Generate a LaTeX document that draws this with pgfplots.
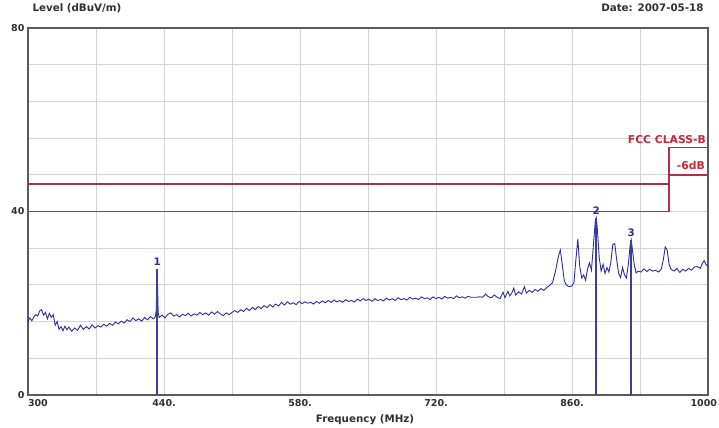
\documentclass[border=0pt]{standalone}
\usepackage{pgfplots}
\pgfplotsset{compat=1.18}
\usepackage{fontspec}
\setmainfont{DejaVu Sans}
\definecolor{trace}{HTML}{2E2E9E}
\definecolor{limit}{HTML}{B03048}
\definecolor{limtxt}{HTML}{C8283A}
\definecolor{frame}{HTML}{5A5A5A}
\definecolor{gridc}{HTML}{D4D4D4}
\definecolor{txt}{HTML}{303030}
\newcommand{\lbl}{\bfseries\fontsize{10.3}{11}\selectfont}
\newcommand{\tck}{\bfseries\fontsize{9.5}{10}\selectfont}
\newcommand{\limfont}{\bfseries\fontsize{10.8}{11}\selectfont}
\begin{document}
\begin{tikzpicture}
\begin{axis}[
  name=ax,
  scale only axis,
  width=680pt, height=367pt,
  xmin=300, xmax=1000,
  ymin=0, ymax=80,
  xtick={300,370,...,1000},
  xticklabels={\makebox[0pt][l]{300},,440.,,580.,,720.,,860.,,\makebox[0pt][r]{1000\kern-9pt}},
  ytick={0,8,...,80},
  yticklabels={0,,,,,40,,,,,80},
  major tick length=0pt,
  grid=major,
  grid style={gridc, line width=0.8pt},
  axis line style={frame, line width=1.6pt},
  ticklabel style={font=\tck, text=txt},
  xticklabel style={yshift=-1pt},
  clip=true,
]
% limit lines (FCC class B and -6 dB)
\addplot[draw=limit, line width=1.5pt, const plot] coordinates {(300,46)(960,54)(1000,54)};
\addplot[draw=limit, line width=1.5pt, const plot] coordinates {(300,40)(960,48)(1000,48)};

% measured trace
\addplot[draw=trace, line width=0.9pt] coordinates {
(300,16.0)(302,16.8)(304,16.2)(306,17.0)(308,17.5)(310,17.2)(312,18.3)(314,18.6)
(316,17.4)(318,18.0)(320,16.6)(322,17.8)(324,16.9)(326,17.5)(328,15.2)(330,16.0)
(332,14.3)(334,14.9)(336,14.0)(338,15.0)(340,14.2)(342,14.8)(345,13.9)(348,14.6)
(351,14.1)(354,15.2)(357,14.3)(360,14.9)(363,14.4)(366,15.3)(369,14.6)(372,15.1)
(375,14.8)(378,15.4)(381,15.0)(384,15.6)(387,15.2)(390,15.9)(393,15.5)(396,16.1)
(399,15.7)(402,16.4)(405,16.0)(408,16.8)(411,16.2)(414,16.6)(417,16.1)(420,16.9)
(423,16.4)(426,17.1)(429,16.6)(431,17.0)(432,18.5)(433,27.5)(434,18.0)(435,16.9)
(438,17.4)(441,16.8)(444,17.6)(447,17.9)(450,17.2)(453,17.5)(456,17.0)(459,17.6)
(462,17.3)(465,17.8)(468,17.2)(471,17.7)(474,17.4)(477,18.0)(480,17.5)(483,17.9)
(486,17.4)(489,18.1)(492,17.6)(495,18.2)(498,17.7)(501,17.3)(504,17.9)(507,17.5)
(510,18.0)(513,18.4)(516,18.0)(519,18.6)(522,18.2)(525,18.9)(528,18.4)(531,19.1)
(534,18.6)(537,19.3)(540,18.8)(543,19.5)(546,19.0)(549,19.7)(552,19.2)(555,19.8)
(558,19.4)(561,20.2)(564,19.6)(567,20.3)(570,19.8)(573,20.1)(576,19.7)(579,20.4)
(582,19.9)(585,20.3)(588,20.0)(591,20.2)(594,19.8)(597,20.4)(600,20.0)(603,20.5)
(606,20.1)(609,20.6)(612,20.2)(615,20.7)(618,20.3)(621,20.6)(624,20.2)(627,20.8)
(630,20.4)(633,20.6)(636,20.3)(639,20.9)(642,20.5)(645,21.0)(648,20.6)(651,20.9)
(654,20.4)(657,21.0)(660,20.6)(663,20.8)(666,20.5)(669,21.1)(672,20.7)(675,21.0)
(678,20.6)(681,21.2)(684,20.8)(687,21.0)(690,20.7)(693,21.3)(696,20.9)(699,21.1)
(702,20.8)(705,21.4)(708,21.0)(711,21.2)(714,20.8)(717,21.4)(720,21.0)(723,21.3)
(726,20.9)(729,21.5)(732,21.1)(735,21.3)(738,21.0)(741,21.6)(744,21.2)(747,21.4)
(750,21.1)(753,21.5)(756,21.3)(759,21.3)(762,21.3)(765,21.4)(768,21.3)(771,22.0)
(774,21.4)(777,21.2)(780,21.8)(783,21.3)(786,21.0)(789,22.4)(791,21.2)(794,22.6)
(796,21.6)(798,22.2)(800,23.3)(802,21.8)(805,22.5)(808,22.0)(811,23.6)(813,22.2)
(816,22.8)(819,22.4)(822,23.0)(825,22.6)(828,23.2)(831,22.8)(834,23.4)(837,23.9)
(840,24.5)(843,27.0)(846,30.2)(848,31.6)(850,28.4)(852,25.0)(854,24.0)(857,23.6)
(860,23.8)(862,24.5)(864,29.5)(866,34.0)(868,28.0)(870,25.5)(872,26.2)(874,25.0)
(876,27.5)(878,28.8)(880,27.2)(882,32.5)(884,38.0)(885,38.6)(886,36.5)(888,30.0)
(890,27.0)(892,28.5)(894,26.5)(896,27.8)(898,26.8)(900,29.0)(902,32.8)(904,33.0)
(906,29.5)(908,26.5)(910,25.6)(912,27.8)(914,26.2)(916,25.5)(918,28.5)(920,33.0)
(921,33.8)(922,32.0)(924,28.5)(926,26.6)(928,27.0)(931,26.8)(934,27.5)(937,26.9)
(940,27.4)(943,27.0)(946,27.2)(949,26.8)(952,27.5)(954,29.5)(956,32.3)(958,31.5)
(960,28.5)(962,27.4)(965,27.0)(968,27.6)(971,26.7)(974,27.4)(977,27.0)(980,27.6)
(983,27.2)(986,27.9)(989,28.0)(992,27.6)(994,28.6)(996,29.3)(998,28.4)(1000,28.0)
};

% marker lines
\addplot[draw=trace!80!gray, line width=1.6pt, ycomb, forget plot] coordinates {(433,27.5)(885,38.6)(921,33.8)};
\node[trace, font=\lbl, above, inner sep=1pt] at (axis cs:433,28.0) {1};
\node[trace, font=\lbl, above, inner sep=1pt] at (axis cs:885,39.0) {2};
\node[trace, font=\lbl, above, inner sep=1pt] at (axis cs:921,34.2) {3};

% limit labels
\node[limtxt, font=\limfont, anchor=south east, inner sep=1pt] at (axis cs:999,54.6) {FCC CLASS-B};
\node[limtxt, font=\limfont, anchor=south east, inner sep=1pt] at (axis cs:998,48.8) {-6dB};
\end{axis}
\node[font=\lbl, text=txt, anchor=west] at ([shift={(1pt,20pt)}]ax.north west) {Level (dBuV/m)};
\node[font=\lbl, text=txt, anchor=east] at ([shift={(-1pt,20pt)}]ax.north east) {Date: 2007-05-18};
\node[font=\lbl, text=txt] at ([shift={(-3pt,-25pt)}]ax.south) {Frequency (MHz)};
\pgfresetboundingbox
\path ([shift={(-28pt,-33pt)}]ax.south west) rectangle ([shift={(11pt,28pt)}]ax.north east);
\end{tikzpicture}
\end{document}
